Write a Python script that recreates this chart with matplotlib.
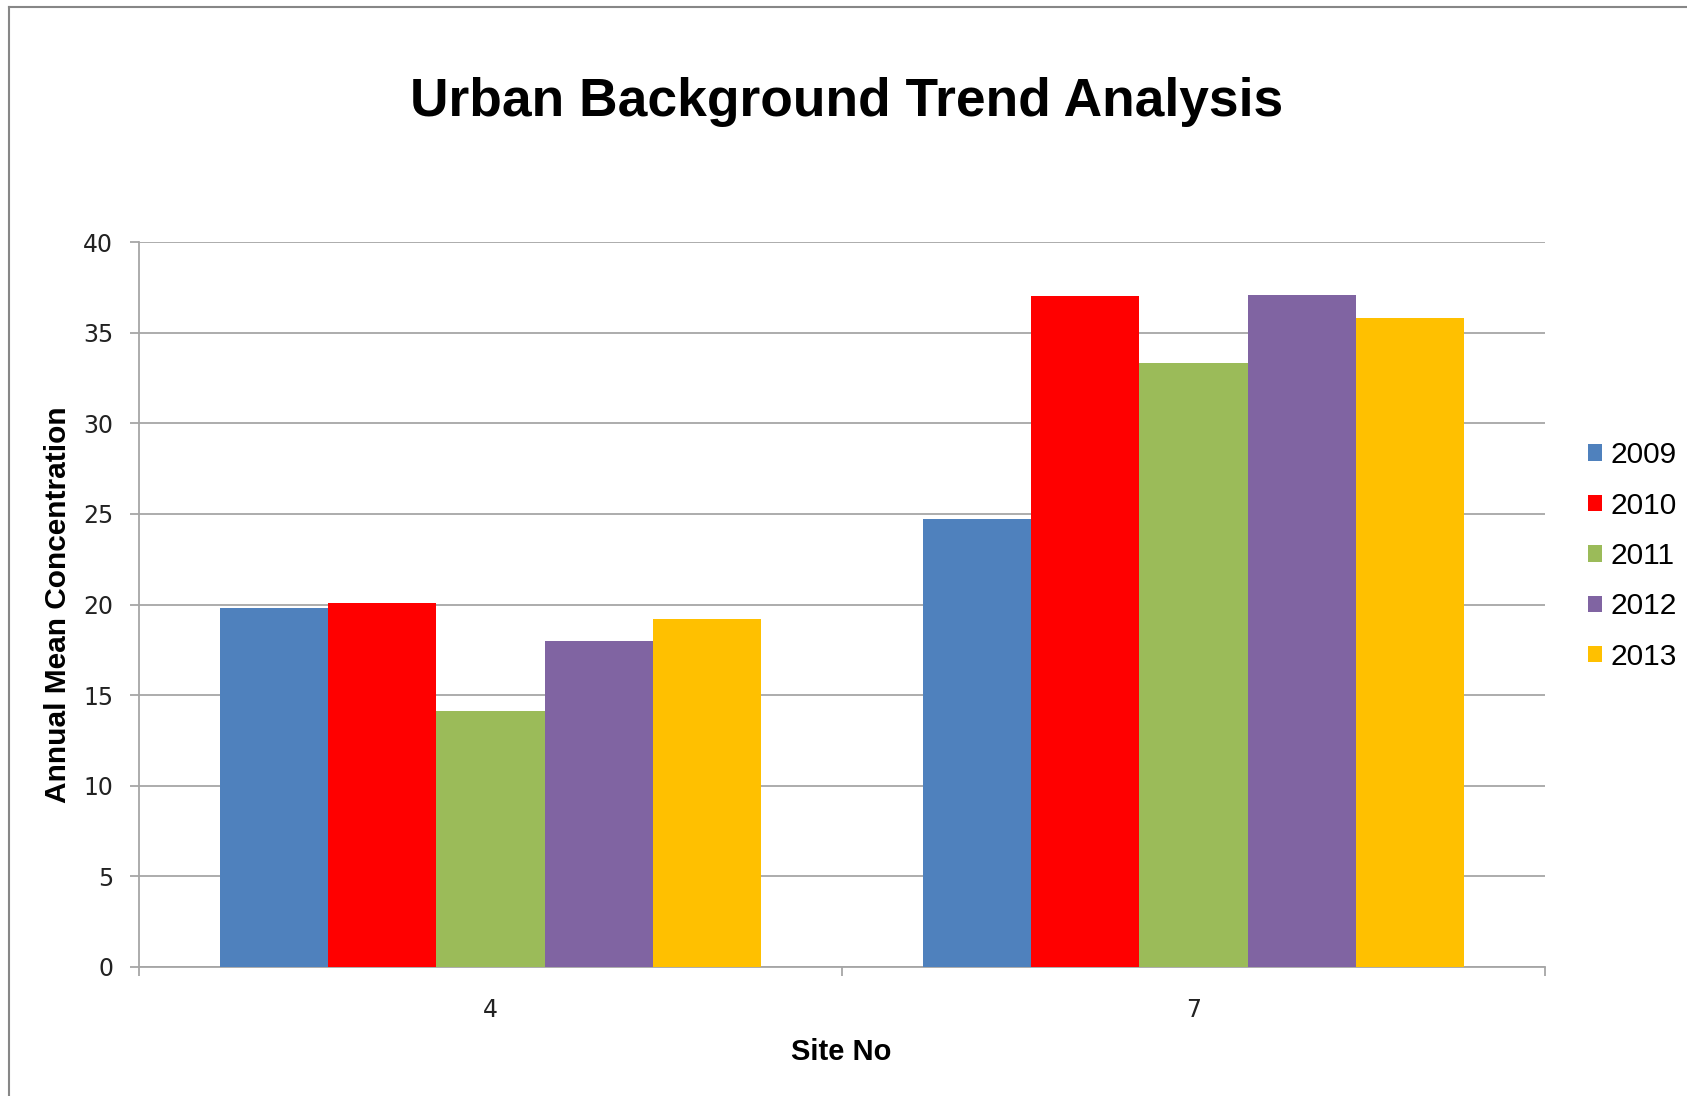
import numpy as np
import matplotlib
matplotlib.use('Agg')
import matplotlib.pyplot as plt
from matplotlib.lines import Line2D

# Annual mean concentration per site and year
sites = ['4', '7']
years = ['2009', '2010', '2011', '2012', '2013']
values_2009 = [19.8, 24.7]
values_2010 = [20.1, 37.0]
values_2011 = [14.1, 33.3]
values_2012 = [18.0, 37.1]
values_2013 = [19.2, 35.8]
series = [values_2009, values_2010, values_2011, values_2012, values_2013]

colors = ['#4F81BD', '#FF0000', '#9BBB59', '#8064A2', '#FFC000']
grid_grey = '#A6A6A6'
arial = ['Liberation Sans', 'DejaVu Sans']
narrow = ['Liberation Sans Narrow', 'Liberation Sans', 'DejaVu Sans']

W, H = 1687, 1096
fig = plt.figure(figsize=(W / 100, H / 100), dpi=100)
fig.patch.set_facecolor('white')

# plot area in pixels: left 139, right 1545, top 242, bottom 967
ax = fig.add_axes([139 / W, 1 - 967 / H, 1406 / W, 725 / H])

x = np.arange(len(sites))
# five bars plus a 150% gap per category
bar_w = 1 / 6.5
for i, (vals, year) in enumerate(zip(series, years)):
    offs = (i - 2) * bar_w
    ax.bar(x + offs, vals, width=bar_w, color=colors[i], label=year,
           edgecolor='none', zorder=3)

ax.set_xlim(-0.5, len(sites) - 0.5)
ax.set_ylim(0, 40)
ax.set_yticks(np.arange(0, 41, 5))
ax.yaxis.grid(True, color=grid_grey, linewidth=1.3, zorder=0)
ax.set_axisbelow(True)

# category boundaries carry the tick marks, labels sit at the centres
ax.set_xticks(np.arange(-0.5, len(sites), 1.0))
ax.set_xticklabels([])
ax.set_xticks(x, minor=True)
ax.set_xticklabels(sites, minor=True, fontsize=17, family='DejaVu Sans',
                   color='#222222')
ax.tick_params(axis='x', which='major', length=6.5, width=1.3,
               color=grid_grey, direction='out')
ax.tick_params(axis='x', which='minor', length=0, pad=22)
ax.tick_params(axis='y', length=6.5, width=1.3, color=grid_grey,
               direction='out', pad=12, labelsize=17, labelcolor='#222222')
for lab in ax.get_yticklabels():
    lab.set_family('DejaVu Sans')

for side in ['top', 'right']:
    ax.spines[side].set_visible(False)
for side in ['left', 'bottom']:
    ax.spines[side].set_color(grid_grey)
    ax.spines[side].set_linewidth(1.3)

fig.text(847 / W, 1 - 116 / H, 'Urban Background Trend Analysis',
         ha='center', va='baseline', fontsize=38.4, fontweight='bold',
         family=arial)
fig.text(841 / W, 1 - 1060 / H, 'Site No', ha='center', va='baseline',
         fontsize=21, fontweight='bold', family=arial)
fig.text(58 / W, 1 - 605 / H, 'Annual Mean Concentration', ha='center',
         va='center', rotation=90, fontsize=21.5, fontweight='bold',
         family=narrow)

leg = fig.legend(loc='center left', bbox_to_anchor=(1588 / W, 1 - 556 / H),
                 frameon=False, borderpad=0, borderaxespad=0,
                 handlelength=0.47, handleheight=0.47, handletextpad=0.28,
                 labelspacing=0.75, prop={'family': arial, 'size': 21.5})

# chart frame, only the top and left edges fall inside the image
frame = '#878787'
fig.add_artist(Line2D([9 / W, 9 / W], [0, 1 - 6.5 / H], transform=fig.transFigure,
                      color=frame, linewidth=1.5))
fig.add_artist(Line2D([9 / W, 1], [1 - 6.5 / H, 1 - 6.5 / H],
                      transform=fig.transFigure, color=frame, linewidth=1.5))

fig.savefig('out.png', dpi=100)
